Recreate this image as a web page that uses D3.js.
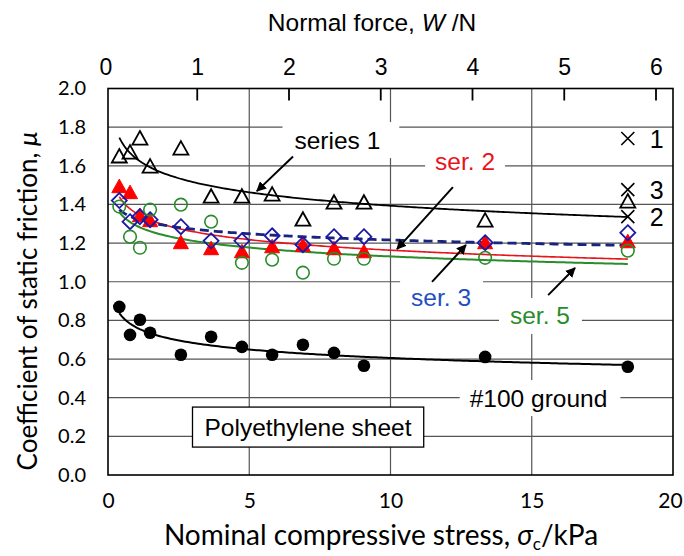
<!DOCTYPE html>
<html><head><meta charset="utf-8">
<script src="https://cdn.jsdelivr.net/npm/d3@7"></script>
<style>body{margin:0;background:#fff}svg{display:block}</style>
</head><body>
<svg id="c" width="684" height="556"></svg>
<script>
// ---- data ----
const stress = [0.40, 0.78, 1.13, 1.49, 2.58, 3.65, 4.74, 5.81, 6.90, 8.00, 9.06, 13.35, 18.40];
const series1 = [1.648, 1.668, 1.741, 1.596, 1.689, 1.440, 1.440, 1.451, 1.321, 1.409, 1.409, 1.316, 1.415];
const series2 = [1.492, 1.461, 1.342, 1.316, 1.202, 1.171, 1.155, 1.181, 1.187, 1.171, 1.155, 1.202, 1.207];
const series3 = [1.420, 1.311, 1.337, 1.321, 1.285, 1.212, 1.212, 1.238, 1.192, 1.233, 1.233, 1.202, 1.254];
const series5 = [1.389, 1.233, 1.176, 1.373, 1.399, 1.311, 1.098, 1.114, 1.047, 1.119, 1.119, 1.124, 1.161];
const ground  = [0.870, 0.725, 0.803, 0.736, 0.622, 0.715, 0.663, 0.622, 0.674, 0.632, 0.565, 0.611, 0.560];
const crossStress = [18.4, 18.4, 18.4];
const crossMu = [1.741, 1.477, 1.337];
const crossLabels = ["1", "3", "2"];
const yTicks = [0, 0.2, 0.4, 0.6, 0.8, 1.0, 1.2, 1.4, 1.6, 1.8, 2.0];
const xTicks = [0, 5, 10, 15, 20];
const topTicks = [0, 1, 2, 3, 4, 5, 6];

const svg = d3.select("#c");
const L = 108, R = 673, T = 88.5, B = 475;
const x = d3.scaleLinear().domain([0, 20]).range([L, R]);
const y = d3.scaleLinear().domain([0, 2]).range([B, T]);
const xTop = d3.scaleLinear().domain([0, 6]).range([105.5, 656]);

const CAL = "Lato, 'Open Sans', sans-serif";
const ARI = "'Liberation Sans', Arial, sans-serif";

// gridlines
const g = svg.append("g");
g.selectAll("line.h").data(yTicks.filter(v => v > 0 && v < 2)).join("line")
  .attr("x1", L).attr("x2", R).attr("y1", d => y(d)).attr("y2", d => y(d))
  .attr("stroke", "#555").attr("stroke-width", 1.2);
g.selectAll("line.v").data(xTicks.filter(v => v > 0 && v < 20)).join("line")
  .attr("y1", T).attr("y2", B).attr("x1", d => x(d)).attr("x2", d => x(d))
  .attr("stroke", "#555").attr("stroke-width", 1.2);

// annotation labels (positions in data coordinates)
const notes = [
  {t: "series 1", sx: 8.12, mu: 1.733, c: "#000", pl: 12, pr: 19},
  {t: "ser. 2", sx: 12.64, mu: 1.62, c: "#e8141b", pl: 10, pr: 10},
  {t: "ser. 3", sx: 11.79, mu: 0.916, c: "#1f4fc2", pl: 11, pr: 12},
  {t: "ser. 5", sx: 15.29, mu: 0.823, c: "#2a8c2a", pl: 11, pr: 12},
  {t: "#100 ground", sx: 15.24, mu: 0.398, c: "#000", pl: 10, pr: 13}
];
const noteG = svg.append("g");
notes.forEach(n => {
  const bg = noteG.append("rect").attr("fill", "#fff");
  const tx = noteG.append("text").attr("x", x(n.sx)).attr("y", y(n.mu))
    .attr("text-anchor", "middle").attr("dominant-baseline", "central")
    .attr("font-family", ARI).attr("font-size", 24.5).attr("fill", n.c).text(n.t);
  const bb = tx.node().getBBox();
  bg.attr("x", bb.x - n.pl).attr("y", y(n.mu) - 18).attr("width", bb.width + n.pl + n.pr).attr("height", 36);
});

// power-law trend lines fitted (least squares in log-log) from the data
function powerFit(xs, ys) {
  const lx = xs.map(Math.log), ly = ys.map(Math.log);
  const mx = d3.mean(lx), my = d3.mean(ly);
  let sxy = 0, sxx = 0;
  lx.forEach((v, i) => { sxy += (v - mx) * (ly[i] - my); sxx += (v - mx) * (v - mx); });
  const b = sxy / sxx, a = Math.exp(my - b * mx);
  return v => a * Math.pow(v, b);
}
function trend(ys, color, width, dash) {
  const f = powerFit(stress, ys);
  const x0 = stress[0], x1 = stress[stress.length - 1];
  const pts = d3.range(0, 201).map(i => x0 + (x1 - x0) * i / 200);
  svg.append("path").datum(pts)
    .attr("d", d3.line().x(d => x(d)).y(d => y(f(d))))
    .attr("fill", "none").attr("stroke", color).attr("stroke-width", width)
    .attr("stroke-dasharray", dash || null);
}
trend(series1, "#000", 1.8);
trend(series5, "#2a8c2a", 2);
trend(series2, "#e8141b", 1.6);
trend(series3, "#1a237e", 2.8, "9,5");
trend(ground, "#000", 2);

// markers
const tri = "M0,-7.5L7.5,6L-7.5,6Z";
const dia = "M0,-7.5L7.5,0L0,7.5L-7.5,0Z";
svg.append("g").selectAll("path").data(stress).join("path")
  .attr("transform", (d, i) => `translate(${x(d)},${y(series1[i])})`)
  .attr("d", tri).attr("fill", "none").attr("stroke", "#000").attr("stroke-width", 1.8);
svg.append("g").selectAll("path").data(stress).join("path")
  .attr("transform", (d, i) => `translate(${x(d)},${y(series2[i])})`)
  .attr("d", tri).attr("fill", "#ff0000").attr("stroke", "#ff0000").attr("stroke-width", 1);
svg.append("g").selectAll("path").data(stress).join("path")
  .attr("transform", (d, i) => `translate(${x(d)},${y(series3[i])})`)
  .attr("d", dia).attr("fill", "none").attr("stroke", "#1a1aa6").attr("stroke-width", 1.8);
svg.append("g").selectAll("circle").data(stress).join("circle")
  .attr("cx", d => x(d)).attr("cy", (d, i) => y(series5[i])).attr("r", 6.3)
  .attr("fill", "none").attr("stroke", "#2a8c2a").attr("stroke-width", 1.6);
svg.append("g").selectAll("circle").data(stress).join("circle")
  .attr("cx", d => x(d)).attr("cy", (d, i) => y(ground[i])).attr("r", 6.3)
  .attr("fill", "#000");

// crosses with labels
const cg = svg.append("g");
crossMu.forEach((m, i) => {
  const cx = x(crossStress[i]), cy = y(m);
  cg.append("path").attr("d", `M${cx-6.5},${cy-6.5}L${cx+6.5},${cy+6.5}M${cx-6.5},${cy+6.5}L${cx+6.5},${cy-6.5}`)
    .attr("stroke", "#000").attr("stroke-width", 1.6);
  cg.append("text").attr("x", cx + 29).attr("y", cy).attr("text-anchor", "middle")
    .attr("dominant-baseline", "central").attr("font-family", ARI).attr("font-size", 25).text(crossLabels[i]);
});

// arrows
svg.append("defs").append("marker").attr("id", "ah").attr("viewBox", "0 0 10 10")
  .attr("refX", 9).attr("refY", 5).attr("markerWidth", 5).attr("markerHeight", 5)
  .attr("orient", "auto").attr("markerUnits", "strokeWidth")
  .append("path").attr("d", "M0,0L10,5L0,10Z").attr("fill", "#000");
const arrows = [
  [6.55, 1.648, 5.27, 1.469],
  [12.21, 1.490, 10.23, 1.169],
  [11.47, 0.999, 12.67, 1.190],
  [15.58, 0.931, 16.53, 1.071]
];
svg.append("g").selectAll("line").data(arrows).join("line")
  .attr("x1", d => x(d[0])).attr("y1", d => y(d[1])).attr("x2", d => x(d[2])).attr("y2", d => y(d[3]))
  .attr("stroke", "#000").attr("stroke-width", 2).attr("marker-end", "url(#ah)");

// Polyethylene sheet box
const pg = svg.append("g");
const pbg = pg.append("rect").attr("fill", "#fff").attr("stroke", "#000").attr("stroke-width", 1.3);
const pt = pg.append("text").attr("x", x(7.08)).attr("y", y(0.248)).attr("text-anchor", "middle")
  .attr("dominant-baseline", "central").attr("font-family", ARI).attr("font-size", 24.5).text("Polyethylene sheet");
const pb = pt.node().getBBox();
pbg.attr("x", pb.x - 12).attr("y", y(0.248) - 20).attr("width", pb.width + 24).attr("height", 40);

// frame
svg.append("rect").attr("x", L).attr("y", T).attr("width", R - L).attr("height", B - T)
  .attr("fill", "none").attr("stroke", "#000").attr("stroke-width", 1.6);

// top axis (inward ticks)
const topAxis = d3.axisTop(xTop).tickValues(topTicks).tickSize(0).tickPadding(14).tickFormat(d3.format("d"));
const ta = svg.append("g").attr("transform", `translate(0,${T})`).call(topAxis);
ta.select(".domain").remove();
ta.selectAll("text").attr("font-family", ARI).attr("font-size", 23).attr("fill", "#000");
svg.append("g").selectAll("line").data(topTicks.filter(v => v > 0)).join("line")
  .attr("x1", d => xTop(d)).attr("x2", d => xTop(d)).attr("y1", T).attr("y2", T + 12)
  .attr("stroke", "#000").attr("stroke-width", 1.8);

// bottom axis
const ba = svg.append("g").attr("transform", `translate(0,${B})`)
  .call(d3.axisBottom(x).tickValues(xTicks).tickSize(0).tickPadding(18));
ba.select(".domain").remove();
ba.selectAll("text").attr("font-family", CAL).attr("font-size", 21).attr("fill", "#000")
  .attr("dx", d => d === 20 ? -3 : 0);

// left axis
const la = svg.append("g").attr("transform", `translate(${L},0)`)
  .call(d3.axisLeft(y).tickValues(yTicks).tickSize(0).tickPadding(22).tickFormat(d3.format(".1f")));
la.select(".domain").remove();
la.selectAll("text").attr("font-family", CAL).attr("font-size", 20).attr("fill", "#000");

// titles
const tt = svg.append("text").attr("x", 372).attr("y", 22).attr("text-anchor", "middle")
  .attr("dominant-baseline", "central").attr("font-family", ARI).attr("font-size", 24.5);
tt.append("tspan").text("Normal force, ");
tt.append("tspan").attr("font-style", "italic").text("W");
tt.append("tspan").text(" /N");

const bt = svg.append("text").attr("x", 381).attr("y", 545).attr("text-anchor", "middle")
  .attr("font-family", CAL).attr("font-size", 28);
bt.append("tspan").text("Nominal compressive stress, ");
bt.append("tspan").attr("font-style", "italic").text("σ");
bt.append("tspan").attr("font-size", 17).attr("dy", 5).text("c");
bt.append("tspan").attr("dy", -5).text("/kPa");

const yt = svg.append("text").attr("transform", "translate(27,301) rotate(-90)").attr("text-anchor", "middle")
  .attr("dominant-baseline", "central").attr("font-family", CAL).attr("font-size", 26);
yt.append("tspan").text("Coefficient of static friction, ");
yt.append("tspan").attr("font-style", "italic").text("μ");
</script>
</body></html>
